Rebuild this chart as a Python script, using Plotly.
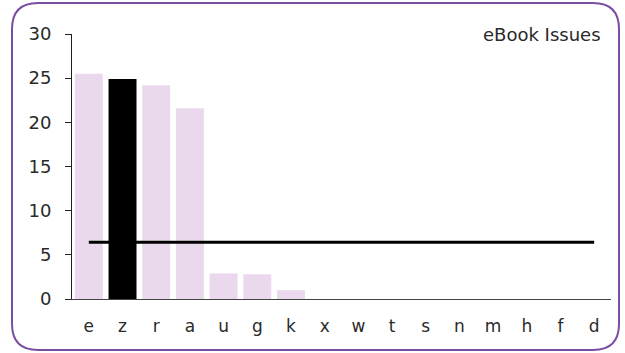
import plotly.graph_objects as go

# data
letters = ["e", "z", "r", "a", "u", "g", "k", "x", "w", "t", "s", "n", "m", "h", "f", "d"]
issues = [25.5, 24.9, 24.2, 21.6, 2.9, 2.8, 1.0, 0, 0, 0, 0, 0, 0, 0, 0, 0]
average = [6.43] * len(letters)
highlight = "z"

W, H = 625, 353
L, R, T, B = 72, 14, 34, 54
pw, ph = W - L - R, H - T - B

bar_colors = ["#000000" if c == highlight else "#ead9ec" for c in letters]

fig = go.Figure()
fig.add_trace(go.Bar(x=letters, y=issues, marker=dict(color=bar_colors, line=dict(width=0)),
                     showlegend=False))
fig.add_trace(go.Scatter(x=letters, y=average, mode="lines",
                         line=dict(color="#000000", width=3), showlegend=False))

# rounded frame round the whole chart, in paper coords
def px_x(v):
    return (v - L) / pw

def px_y(v):
    return (H - B - v) / ph

x0, x1, y0, y1 = px_x(12), px_x(619), px_y(350), px_y(3)
rx, ry = 26 / pw, 26 / ph
path = (f"M {x0+rx},{y1} L {x1-rx},{y1} Q {x1},{y1} {x1},{y1-ry} "
        f"L {x1},{y0+ry} Q {x1},{y0} {x1-rx},{y0} L {x0+rx},{y0} "
        f"Q {x0},{y0} {x0},{y0+ry} L {x0},{y1-ry} Q {x0},{y1} {x0+rx},{y1} Z")
fig.add_shape(type="path", path=path, xref="paper", yref="paper",
              line=dict(color="#7a4ea3", width=2))

fig.add_annotation(text="eBook Issues", xref="paper", yref="paper",
                   x=px_x(603), y=px_y(34), xanchor="right", yanchor="middle",
                   showarrow=False, font=dict(size=18, color="#2a2a2a"))

fig.update_layout(
    width=W, height=H,
    margin=dict(l=L, r=R, t=T, b=B),
    plot_bgcolor="white", paper_bgcolor="white",
    font=dict(family="DejaVu Sans", color="#2a2a2a"),
    bargap=0.17,
)
fig.update_xaxes(showline=True, linecolor="#444444", linewidth=1, ticks="",
                 showgrid=False, tickfont=dict(size=17), ticklabelstandoff=12,
                 automargin=False)
fig.update_yaxes(range=[0, 30], tickvals=[0, 5, 10, 15, 20, 25, 30],
                 showline=True, linecolor="#222222", linewidth=1,
                 ticks="outside", ticklen=6, tickcolor="#222222",
                 showgrid=False, zeroline=False, tickfont=dict(size=18),
                 ticklabelstandoff=10, automargin=False)

# page body has a default 8px margin; drop it so the chart sits at the corner
fig.write_html("out.html", config={"displayModeBar": False},
               post_script="document.body.style.margin='0';")
